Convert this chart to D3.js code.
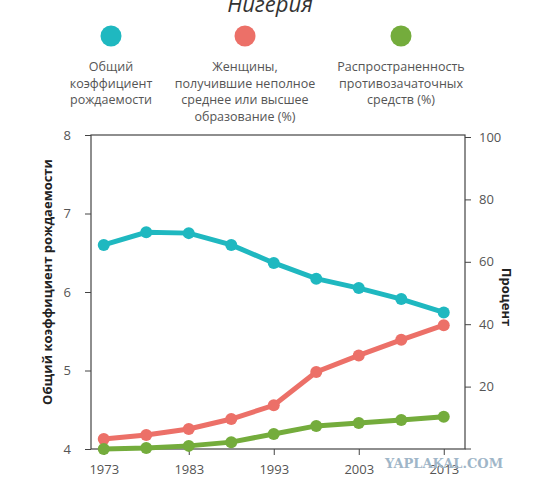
<!DOCTYPE html>
<html><head><meta charset="utf-8">
<script src="https://cdn.jsdelivr.net/npm/d3@7"></script>
<style>body{margin:0;background:#fff;font-family:"Open Sans",sans-serif}</style>
</head><body>
<svg id="c" width="538" height="495"></svg>
<script>
var years = [1973, 1978, 1983, 1988, 1993, 1998, 2003, 2008, 2013];
var fertility = [6.6, 6.76, 6.75, 6.6, 6.37, 6.17, 6.05, 5.91, 5.74];
var education = [3.2, 4.5, 6.4, 9.6, 14, 24.7, 30, 35, 39.7];
var contraception = [0, 0.3, 1, 2.2, 4.8, 7.4, 8.3, 9.3, 10.3];
var xTicks = [1973, 1983, 1993, 2003, 2013];
var legendLabels = [
  ["Общий", "коэффициент", "рождаемости"],
  ["Женщины,", "получившие неполное", "среднее или высшее", "образование (%)"],
  ["Распространенность", "противозачаточных", "средств (%)"]
];
var colors = ["#1fb8c0", "#ec7068", "#74ac3c"];

var svg = d3.select("#c");
var margin = {left: 91, top: 135, right: 73, bottom: 46};
var W = 538, H = 495;

var x = d3.scaleLinear().domain([1971.5, 2015.5]).range([margin.left, W - margin.right]);
var yL = d3.scaleLinear().domain([4, 8]).range([H - margin.bottom, margin.top]);
var yR = d3.scaleLinear().domain([0, 100]).range([H - margin.bottom, margin.top + 2]);

svg.append("text").attr("x", 270).attr("y", 12).attr("text-anchor", "middle")
  .attr("font-size", 22).attr("font-style", "italic").attr("fill", "#333").text("Нигерия");

var legX = [111, 245, 401];
legendLabels.forEach(function (lines, i) {
  svg.append("circle").attr("cx", legX[i]).attr("cy", 36).attr("r", 10.5).attr("fill", colors[i]);
  lines.forEach(function (l, j) {
    svg.append("text").attr("x", legX[i]).attr("y", 71 + j * 16.5).attr("text-anchor", "middle")
      .attr("font-size", 12.5).attr("fill", "#555").text(l);
  });
});

svg.append("rect").attr("x", margin.left).attr("y", margin.top)
  .attr("width", W - margin.right - margin.left).attr("height", H - margin.bottom - margin.top)
  .attr("fill", "none").attr("stroke", "#444").attr("stroke-width", 1.2);

function style(g) {
  g.select(".domain").remove();
  g.selectAll("line").attr("stroke", "#444");
  g.selectAll("text").attr("fill", "#555").attr("font-size", 13).attr("font-family", "Open Sans");
}
svg.append("g").attr("transform", "translate(" + margin.left + ",0)")
  .call(d3.axisLeft(yL).ticks(4).tickSize(6).tickPadding(14)).call(style);
svg.append("g").attr("transform", "translate(" + (W - margin.right) + ",0)")
  .call(d3.axisRight(yR).tickValues([20, 40, 60, 80, 100]).tickSize(6).tickPadding(8)).call(style)
  .append("line").attr("y1", yR(0)).attr("y2", yR(0)).attr("x2", 6).attr("stroke", "#444");
svg.append("g").attr("transform", "translate(0," + (H - margin.bottom) + ")")
  .call(d3.axisBottom(x).tickValues(xTicks).tickFormat(d3.format("d")).tickSize(6).tickPadding(10)).call(style);

svg.append("text").attr("transform", "translate(52,282) rotate(-90)").attr("text-anchor", "middle")
  .attr("font-size", 13).attr("font-weight", "bold").attr("fill", "#222").text("Общий коэффициент рождаемости");
svg.append("text").attr("transform", "translate(502,297) rotate(90)").attr("text-anchor", "middle")
  .attr("font-size", 13).attr("font-weight", "bold").attr("fill", "#222").text("Процент");

var series = [
  {vals: fertility, y: yL},
  {vals: education, y: yR},
  {vals: contraception, y: yR}
];
series.forEach(function (s, i) {
  var pts = years.map(function (yr, k) { return [x(yr), s.y(s.vals[k])]; });
  svg.append("path").attr("d", d3.line()(pts)).attr("fill", "none")
    .attr("stroke", colors[i]).attr("stroke-width", 5);
  svg.selectAll(null).data(pts).enter().append("circle")
    .attr("cx", function (d) { return d[0]; }).attr("cy", function (d) { return d[1]; })
    .attr("r", 6).attr("fill", colors[i]);
});

svg.append("text").attr("x", 444).attr("y", 468).attr("text-anchor", "middle")
  .attr("font-size", 13).attr("font-weight", "bold").attr("font-family", "DejaVu Serif")
  .attr("fill", "#9fb6c8").text("YAPLAKAL.COM");
</script>
</body></html>
